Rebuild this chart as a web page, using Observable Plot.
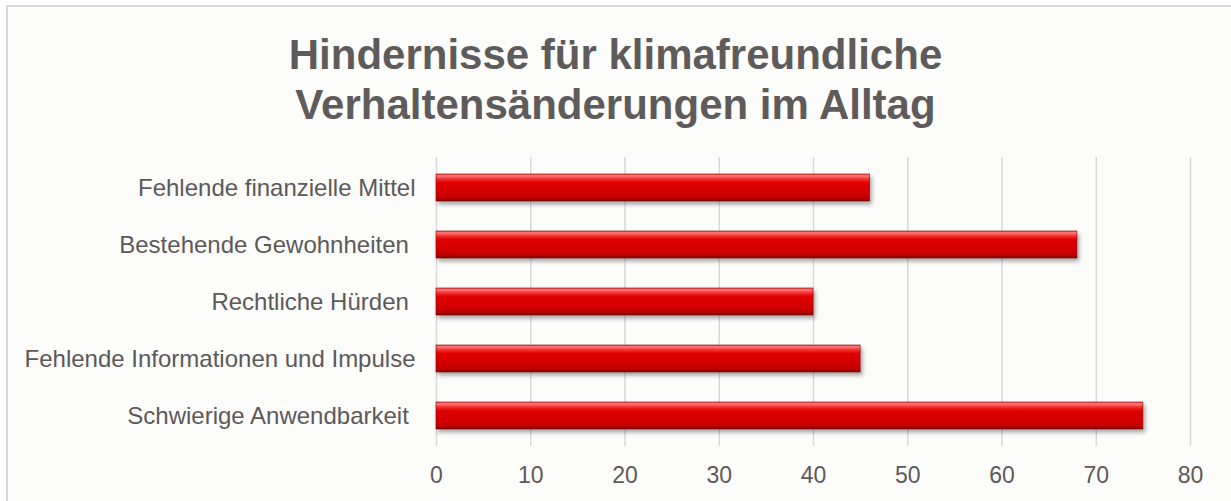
<!DOCTYPE html>
<html>
<head>
<meta charset="utf-8">
<script src="https://cdn.jsdelivr.net/npm/d3@7"></script>
<script src="https://cdn.jsdelivr.net/npm/@observablehq/plot@0.6"></script>
<style>
  html, body { margin: 0; padding: 0; background: #ffffff; }
  body { width: 1231px; height: 501px; position: relative; overflow: hidden; font-family: "Liberation Sans", Arial, sans-serif; }
  #frame { position: absolute; left: 6px; top: 5px; width: 1240px; height: 510px; border-top: 2px solid #d9d9d9; border-left: 2px solid #d9d9d9; background: #fcfcfa; }
  #title { position: absolute; left: 0; top: 0; width: 1231px; text-align: center; color: #605b5b; font-weight: bold; font-size: 42px; line-height: 50px; }
  #title .l1 { position: absolute; left: 0; width: 1231px; top: 30px; }
  #title .l2 { position: absolute; left: 0; width: 1231px; top: 80px; }
  #chart { position: absolute; left: 0; top: 140px; }
  #chart svg text { white-space: pre; }
</style>
</head>
<body>
<div id="frame"></div>
<div id="title"><div class="l1">Hindernisse für klimafreundliche</div><div class="l2">Verhaltensänderungen im Alltag</div></div>
<div id="chart"></div>
<script>
const categories = [
  "Fehlende finanzielle Mittel",
  "Bestehende Gewohnheiten ",
  "Rechtliche Hürden ",
  "Fehlende Informationen und Impulse",
  "Schwierige Anwendbarkeit "
];
const values = [46, 68, 40, 45, 75];
const xTicks = [0, 10, 20, 30, 40, 50, 60, 70, 80];

const data = categories.map((c, i) => ({category: c, value: values[i]}));

const chart = Plot.plot({
  width: 1231,
  height: 361,
  marginTop: 17,
  marginBottom: 55,
  marginLeft: 436,
  marginRight: 41,
  style: {background: "transparent", fontFamily: "'Liberation Sans', Arial, sans-serif", fontSize: "23px", color: "#5d5959", overflow: "visible"},
  x: {domain: [0, 80], ticks: xTicks, label: null},
  y: {domain: categories, paddingInner: 0.52, paddingOuter: 0.27, label: null},
  marks: [
    Plot.gridX(xTicks, {stroke: "#d9d9d9", strokeOpacity: 1, strokeWidth: 1.5}),
    Plot.axisX({ticks: xTicks, tickSize: 0, tickPadding: 20, fontSize: 23, fill: "#5d5959", label: null}),
    Plot.axisY({tickSize: 0, tickPadding: 21, fontSize: 24, fill: "#5d5959", label: null}),
    Plot.barX(data, {x: "value", y: "category", fill: "url(#redGrad)", stroke: "#8a0000", strokeWidth: 0.6})
  ]
});

const svg = d3.select(chart);
const defs = svg.insert("defs", ":first-child");
const g = defs.append("linearGradient").attr("id", "redGrad").attr("x1", 0).attr("y1", 0).attr("x2", 0).attr("y2", 1);
[["0", "#e84a4a"], ["0.07", "#ff7a7a"], ["0.18", "#f23030"], ["0.32", "#e00000"], ["0.75", "#d00000"], ["0.9", "#b80000"], ["1", "#780000"]]
  .forEach(([o, c]) => g.append("stop").attr("offset", o).attr("stop-color", c));
svg.selectAll("g[aria-label='bar']").style("filter", "drop-shadow(2px 3px 2px rgba(0,0,0,0.35))");

document.getElementById("chart").appendChild(chart);
</script>
</body>
</html>
